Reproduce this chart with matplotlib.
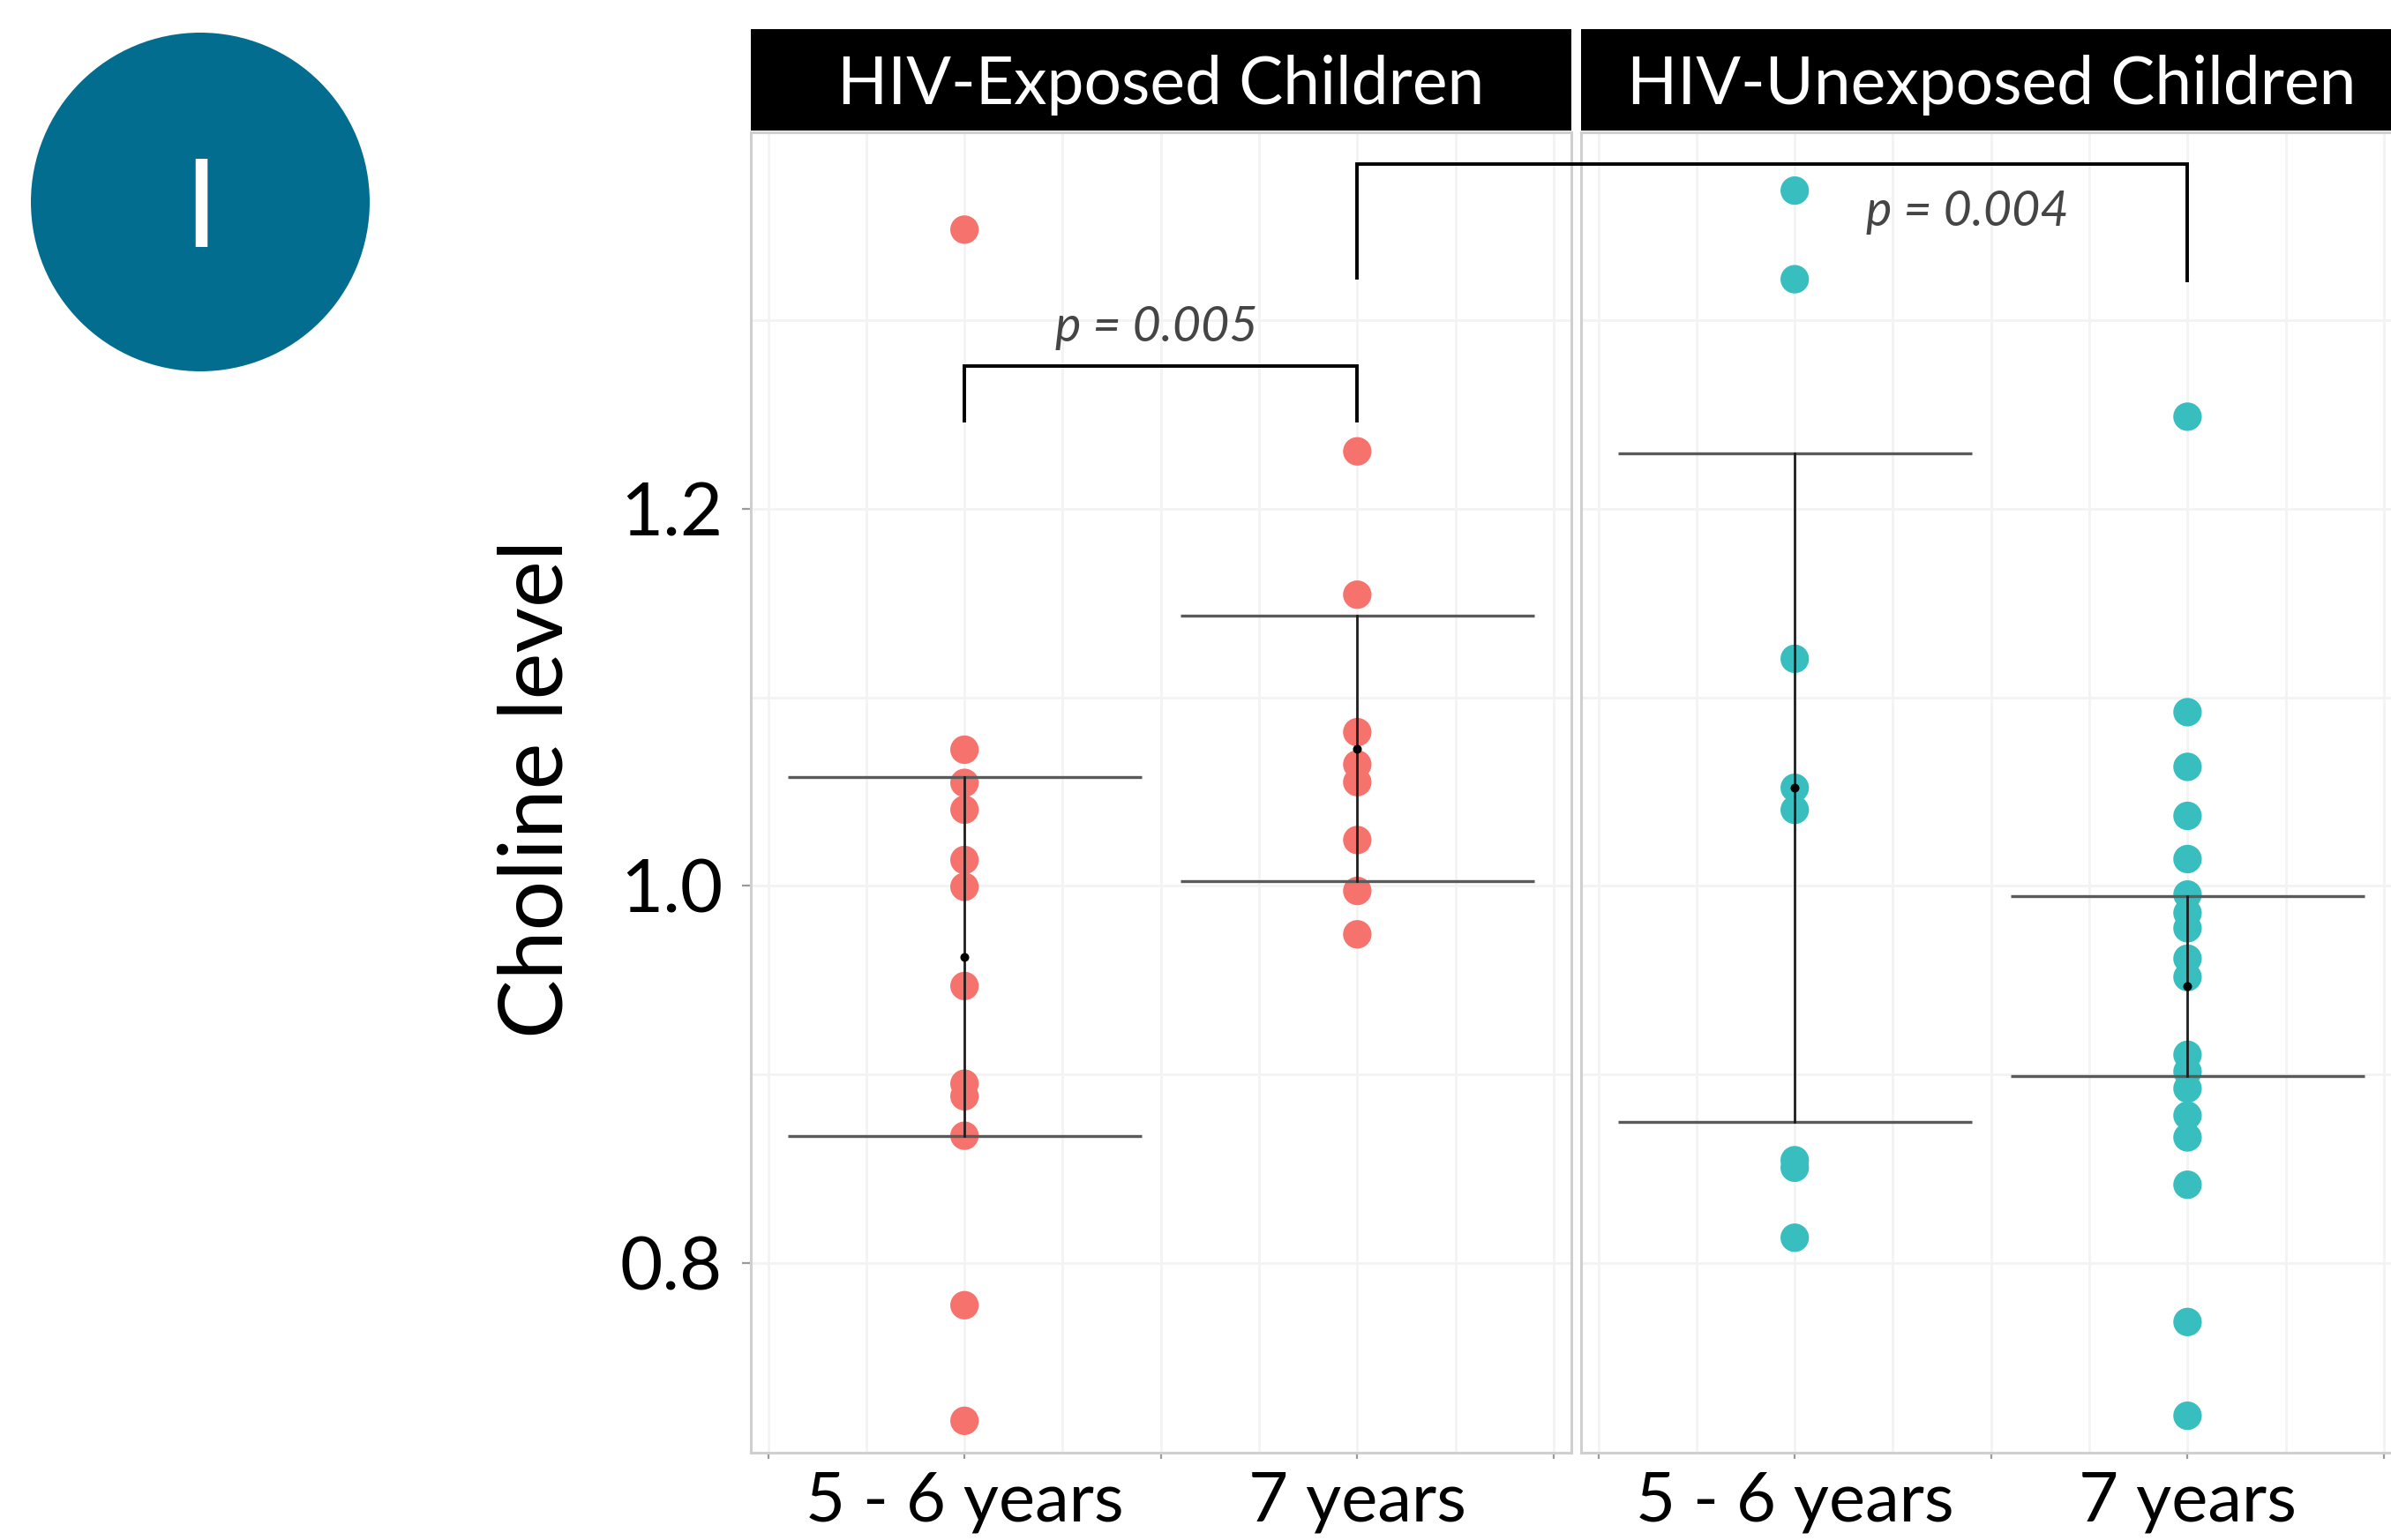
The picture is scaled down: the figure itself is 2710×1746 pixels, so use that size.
import matplotlib
matplotlib.use('Agg')
import matplotlib.pyplot as plt
from matplotlib.patches import Ellipse, Rectangle
from matplotlib.lines import Line2D

plt.rcParams['font.family'] = ['Lato', 'DejaVu Sans']

# ---------------- data ----------------
groups = ['HIV-Exposed Children', 'HIV-Unexposed Children']
ages = ['5 - 6 years', '7 years']
age_pos = [1, 2]

exposed_56 = [1.348, 1.0722, 1.0546, 1.0404, 1.0137, 0.9995, 0.9469,
              0.8951, 0.8884, 0.8675, 0.7776, 0.7163]
exposed_7 = [1.2304, 1.1544, 1.0815, 1.0644, 1.0550, 1.0243, 0.9973, 0.9743]
unexposed_56 = [1.3687, 1.3217, 1.1204, 1.0520, 1.0403, 0.8545, 0.8505, 0.8134]
unexposed_7 = [1.2488, 1.0921, 1.0631, 1.0371, 1.0142, 0.9954, 0.9856, 0.9775,
               0.9614, 0.9516, 0.9104, 0.9015, 0.8925, 0.8782, 0.8666, 0.8415,
               0.7687, 0.7190]

exposed_mean = [0.9624, 1.0728]
exposed_sd = [0.0953, 0.0703]
unexposed_mean = [1.0521, 0.9468]
unexposed_sd = [0.1774, 0.0479]

p_labels = ['p = 0.005', 'p = 0.004']
ytick_vals = [0.8, 1.0, 1.2]
ytick_labels = ['0.8', '1.0', '1.2']

panel_points = [[exposed_56, exposed_7], [unexposed_56, unexposed_7]]
panel_means = [exposed_mean, unexposed_mean]
panel_sds = [exposed_sd, unexposed_sd]
colors = ['#F6736D', '#39BEC0']

# ---------------- layout ----------------
W, H = 2710, 1746
fig = plt.figure(figsize=(W / 200, H / 200), dpi=200)


def fx(px):
    return px / W


def fy(py):
    return 1 - py / H


panel_w = 930
top_px, bot_px = 150, 1647
ax1 = fig.add_axes([fx(851), fy(bot_px), panel_w / W, (bot_px - top_px) / H])
ax2 = fig.add_axes([fx(1792), fy(bot_px), panel_w / W, (bot_px - top_px) / H])
axes = [ax1, ax2]

for i, ax in enumerate(axes):
    ax.set_xlim(0.456, 2.545)
    ax.set_ylim(0.6994, 1.3996)
    ax.set_facecolor('white')
    for s in ax.spines.values():
        s.set_color('#CFCFCF')
        s.set_linewidth(1.1)
    ax.set_xticks([0.5, 1, 1.5, 2, 2.5])
    ax.set_xticklabels(['', ages[0], '', ages[1], ''])
    ax.set_xticks([0.75, 1.25, 1.75, 2.25], minor=True)
    ax.set_yticks(ytick_vals)
    ax.set_yticklabels(ytick_labels)
    ax.set_yticks([0.9, 1.1, 1.3], minor=True)
    ax.grid(True, which='both', color='#F3F3F3', linewidth=1.0)
    ax.set_axisbelow(True)
    ax.tick_params(axis='both', which='minor', length=0)
    ax.tick_params(axis='x', which='major', length=2.5, width=0.8,
                   color='#9A9A9A', pad=5, labelsize=28)
    ax.tick_params(axis='y', which='major', length=3.5, width=0.8,
                   color='#9A9A9A', pad=8, labelsize=30)
    if i == 1:
        ax.tick_params(axis='y', which='both', left=False, labelleft=False)

    for j in range(2):
        vals = panel_points[i][j]
        ax.scatter([age_pos[j]] * len(vals), vals, s=135, color=colors[i],
                   edgecolors='none', zorder=3)
        m = panel_means[i][j]
        sd = panel_sds[i][j]
        ax.plot([age_pos[j] - 0.45, age_pos[j] + 0.45], [m + sd, m + sd],
                color='#5A5A5A', lw=1.2, zorder=4, solid_capstyle='butt')
        ax.plot([age_pos[j] - 0.45, age_pos[j] + 0.45], [m - sd, m - sd],
                color='#5A5A5A', lw=1.2, zorder=4, solid_capstyle='butt')
        ax.plot([age_pos[j], age_pos[j]], [m - sd, m + sd],
                color='#1E1E1E', lw=1.0, zorder=4)
        ax.plot([age_pos[j]], [m], marker='o', ms=2.6, color='black', zorder=5)

# strips
for i, ax in enumerate(axes):
    x0 = [851, 1792][i]
    fig.add_artist(Rectangle((fx(x0), fy(148)), panel_w / W, (148 - 33) / H,
                             transform=fig.transFigure, facecolor='black',
                             edgecolor='none'))
    fig.text(fx(x0 + panel_w / 2), fy(118), groups[i], color='white',
             ha='center', va='baseline', fontsize=27)

# bracket 1 (within exposed panel)
yb1, yt1 = 1.2466, 1.2757
ax1.plot([1, 1, 2, 2], [yb1, yt1, yt1, yb1], color='black', lw=1.4,
         clip_on=False, zorder=6, solid_joinstyle='miter')
ax1.text(1.489, 1.2887, p_labels[0], ha='center', va='baseline',
         fontsize=20, style='italic', fontweight='normal', color='#454545')

# bracket 2 (across panels)
yb2l, yb2r, yt2 = 1.3226, 1.3210, 1.3829
inv = fig.transFigure.inverted()
pts_disp = [ax1.transData.transform((2, yb2l)), ax1.transData.transform((2, yt2)),
            ax2.transData.transform((2, yt2)), ax2.transData.transform((2, yb2r))]
pts_fig = [inv.transform(p) for p in pts_disp]
fig.add_artist(Line2D([p[0] for p in pts_fig], [p[1] for p in pts_fig],
                      transform=fig.transFigure, color='black', lw=1.4,
                      zorder=10, solid_joinstyle='miter'))
ax2.text(1.44, 1.350, p_labels[1], ha='center', va='baseline',
         fontsize=20, style='italic', fontweight='normal', color='#454545')

# y label
fig.text(fx(637), fy(894), 'Choline level', rotation=90, rotation_mode='anchor',
         ha='center', va='baseline', fontsize=36)

# badge
fig.add_artist(Ellipse((fx(227), fy(229)), 384 / W, 384 / H,
                       transform=fig.transFigure, facecolor='#026D8E',
                       edgecolor='none'))
fig.text(fx(228), fy(280), 'I', color='white', ha='center', va='baseline',
         fontsize=50)

fig.savefig('out.png', dpi=200, facecolor='white')
